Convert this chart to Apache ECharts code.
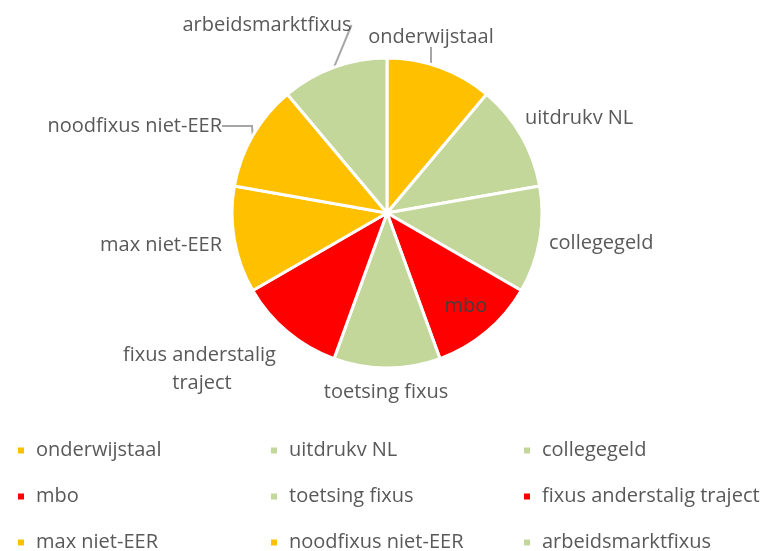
<!DOCTYPE html>
<html>
<head>
<meta charset="utf-8">
<script src="https://cdn.jsdelivr.net/npm/echarts@6/dist/echarts.min.js"></script>
<style>
    html, body { margin: 0; padding: 0; background: #fff; }
    #chart { width: 774px; height: 551px; }
</style>
</head>
<body>
<div id="chart"></div>
<script>
// categorieen en waarden (alle sectoren even groot)
var names = ['onderwijstaal', 'uitdrukv NL', 'collegegeld', 'mbo', 'toetsing fixus',
    'fixus anderstalig traject', 'max niet-EER', 'noodfixus niet-EER', 'arbeidsmarktfixus'];
var values = [1, 1, 1, 1, 1, 1, 1, 1, 1];
var colors = ['#FFC000', '#C4D79B', '#C4D79B', '#FF0000', '#C4D79B',
    '#FF0000', '#FFC000', '#FFC000', '#C4D79B'];

// plek van de labels (x, y, uitlijning) en welke een verbindingslijn hebben
var labelAt = [
    [431, 37, 'center'], [525, 118, 'left'], [549, 243, 'left'],
    [466, 306, 'center'], [386, 392, 'center'], [202, 369, 'center'],
    [222, 245, 'right'], [222, 126, 'right'], [267, 25, 'center']
];
var withLine = [true, false, false, false, false, false, false, true, true];

var font = 'Open Sans';
var fontSize = 20;
var data = [];
for (var i = 0; i < names.length; i++) {
    var item = {
        name: names[i],
        value: values[i],
        itemStyle: {color: colors[i]},
        labelLine: {show: withLine[i]}
    };
    if (names[i] == 'mbo') {
        item.label = {position: 'inside', color: '#404040'};
    }
    if (names[i] == 'fixus anderstalig traject') {
        item.label = {width: 190, overflow: 'break', align: 'center', lineHeight: 28};
    }
    data.push(item);
}

var myChart = echarts.init(document.getElementById('chart'));
var option = {
    animation: false,
    legend: {
        left: 16,
        top: 436,
        width: 774,
        itemWidth: 8,
        itemHeight: 8,
        itemGap: 17,
        icon: 'rect',
        padding: 0,
        textStyle: {
            fontFamily: font,
            fontSize: fontSize,
            color: '#595959',
            width: 216,
            height: 29,
            lineHeight: 29,
            padding: [0, 0, 0, 6]
        },
        data: names
    },
    series: [{
        type: 'pie',
        center: [387, 213],
        radius: 155,
        startAngle: 90,
        clockwise: true,
        itemStyle: {borderColor: '#fff', borderWidth: 3},
        label: {
            show: true,
            position: 'outside',
            fontFamily: font,
            fontSize: fontSize,
            color: '#595959'
        },
        labelLine: {lineStyle: {color: '#A6A6A6', width: 2}},
        labelLayout: function (params) {
            var p = labelAt[params.dataIndex];
            return {x: p[0], y: p[1], align: p[2], verticalAlign: 'middle', hideOverlap: false};
        },
        emphasis: {disabled: true},
        data: data
    }]
};
myChart.setOption(option);
</script>
</body>
</html>
